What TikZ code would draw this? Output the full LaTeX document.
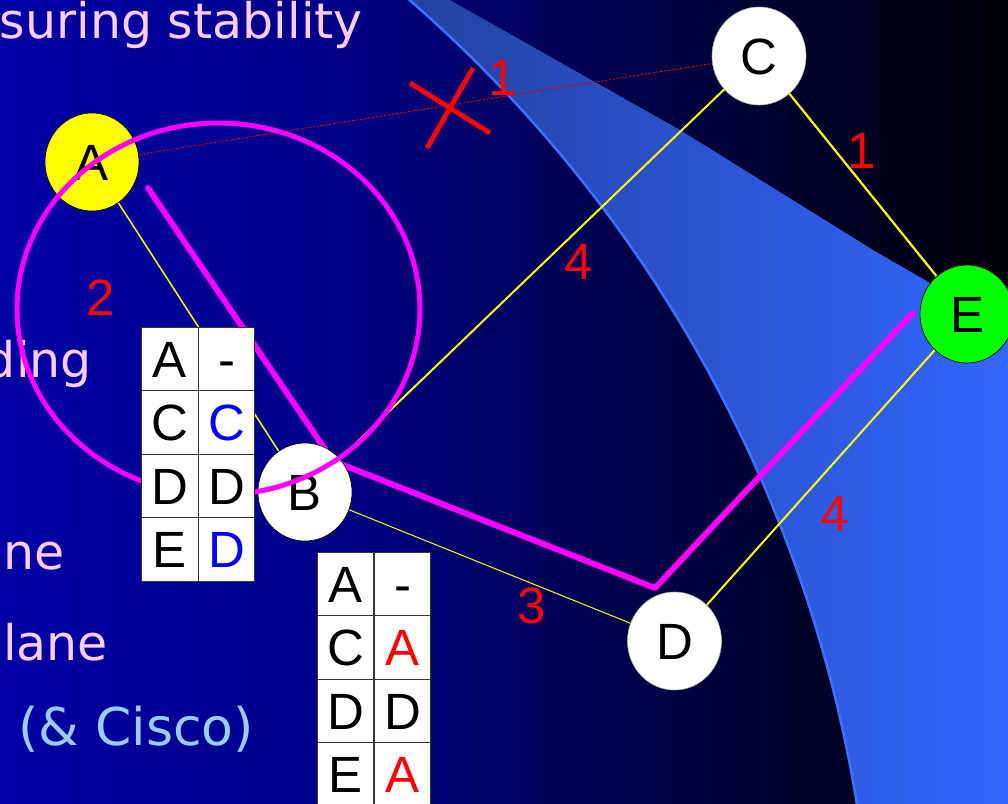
\documentclass[tikz,border=0pt]{standalone}
\usepackage{fontspec}
\usetikzlibrary{shapes.geometric}
\newfontfamily\arialf{Liberation Sans}
\newfontfamily\comicf{DejaVu Sans}
\definecolor{bgA}{RGB}{0,0,165}
\definecolor{bgB}{RGB}{0,0,140}
\definecolor{bgC}{RGB}{0,0,100}
\definecolor{bgD}{RGB}{0,0,60}
\definecolor{bgE}{RGB}{0,0,8}
\definecolor{bandL}{RGB}{35,65,160}
\definecolor{bandR}{RGB}{51,102,255}
\definecolor{bandedge}{RGB}{64,112,255}
\definecolor{yel}{RGB}{255,255,0}
\definecolor{mag}{RGB}{255,0,255}
\definecolor{pinktxt}{RGB}{255,204,255}
\definecolor{ciscotxt}{RGB}{153,204,255}
\definecolor{redtxt}{RGB}{255,0,0}
\definecolor{bluetxt}{RGB}{0,0,255}
\definecolor{nodegreen}{RGB}{0,255,0}
\pgfdeclarehorizontalshading{bgsh}{100bp}{color(0bp)=(bgA); color(25bp)=(bgA); color(40bp)=(bgB); color(50bp)=(bgC); color(60bp)=(bgD); color(75bp)=(bgE); color(100bp)=(bgE)}
\pgfdeclarelayer{bglayer}
\pgfdeclarelayer{edgelayer}
\pgfdeclarelayer{toplayer}
\pgfdeclarelayer{frontlayer}
\pgfsetlayers{bglayer,edgelayer,main,toplayer,frontlayer}
\tikzset{
  rnode/.style={ellipse, draw=black, line width=0.6pt, minimum width=94pt, minimum height=98pt, inner sep=0pt,
    font=\arialf\fontsize{51}{51}\selectfont, text height=37pt, text depth=0pt},
  yline/.style={draw=yel, line width=1.6pt},
  reddash/.style={draw=redtxt!85!black, line width=0.9pt, dash pattern=on 2.5pt off 1.5pt},
  magpath/.style={draw=mag, line width=6pt, line cap=round, line join=round},
  cell/.style={rectangle, draw=black!80, line width=0.8pt, fill=white, minimum width=56.5pt, minimum height=63.5pt,
    inner sep=0pt, font=\arialf\fontsize{51}{51}\selectfont, text height=37pt, text depth=0pt},
  wlabel/.style={inner sep=0pt, text=redtxt, font=\arialf\fontsize{51}{51}\selectfont, text height=37pt, text depth=0pt},
  ctext/.style={inner sep=0pt, text=pinktxt, font=\comicf\fontsize{49}{52}\selectfont},
}
\begin{document}
\begin{tikzpicture}[x=1pt,y=-1pt]
\useasboundingbox (0,0) rectangle (1008,803);
\begin{pgfonlayer}{bglayer}
  \fill[shading=bgsh] (0,0) rectangle (1008,803);
  \fill[left color=bandL, right color=bandR]
    plot[domain=-49.3:-9.0, samples=80] ({-481.4+1356*cos(\x)}, {1022.1+1356*sin(\x)})
    -- (1008,808) -- (1008,328) -- (930,283) -- (873,250) -- (680,130) -- (441,-5) -- cycle;
  \draw[bandedge, line width=2.5pt]
    plot[domain=-49.3:-9.0, samples=80] ({-481.4+1356*cos(\x)}, {1022.1+1356*sin(\x)});
  \node[ctext, anchor=base east] (t1) at (363,38) {suring stability};
  \node[ctext, anchor=base east] (t2) at (92,377) {ding};
  \node[ctext, anchor=base east] (t3) at (65,569) {ane};
  \node[ctext, anchor=base west] (t4) at (3,660) {lane};
  \node[ctext, text=ciscotxt, font=\comicf\fontsize{52}{54}\selectfont, anchor=base west] (t5) at (18,745) {(\&~Cisco)};
\end{pgfonlayer}

\node[rnode, fill=yel] (A) at (92,162) {A};
\node[rnode, fill=white] (B) at (305,492) {B};
\node[rnode, fill=white, draw=black!30] (C) at (759,56) {C};
\node[rnode, fill=white, draw=black!30] (D) at (674.5,641) {D};
\node[rnode, fill=nodegreen] (E) at (967,314) {E};

\coordinate (m0) at (148,188);
\coordinate (m1) at (333,461);
\coordinate (m2) at (655,588);
\coordinate (m3) at (913,313);

\begin{pgfonlayer}{edgelayer}
  \draw[yline, line width=1.5pt] (A) -- (B);
  \draw[yline, line width=2pt] (B) -- (C);
  \draw[yline, line width=1pt] (B) -- (D);
  \draw[yline, line width=2.2pt] (C) -- (E);
  \draw[yline, line width=2pt] (D) -- (E);
  \draw[reddash] (A) -- (C);
  \draw[magpath] (m0) -- (m1) -- (m2) -- (m3);
\end{pgfonlayer}

\begin{pgfonlayer}{toplayer}
  \draw[mag, line width=5pt] (218.5,309) ellipse [x radius=201.5pt, y radius=186pt];
\end{pgfonlayer}

\begin{pgfonlayer}{frontlayer}
  \draw[redtxt, line width=5pt] (410,83) -- (490,133);
  \draw[redtxt, line width=5pt] (473,68) -- (427,148);
  \node[wlabel] (w1) at (503,77) {1};
  \node[wlabel] (w2) at (862,150) {1};
  \node[wlabel] (w3) at (579,261) {4};
  \node[wlabel] (w4) at (101,297) {2};
  \node[wlabel] (w5) at (532,605) {3};
  \node[wlabel] (w6) at (835,513) {4};
  % table at B
  \node[cell] (b11) at (170,358.75) {A};
  \node[cell] (b12) at (226.5,358.75) {-};
  \node[cell] (b21) at (170,422.25) {C};
  \node[cell, text=bluetxt] (b22) at (226.5,422.25) {C};
  \node[cell] (b31) at (170,485.75) {D};
  \node[cell] (b32) at (226.5,485.75) {D};
  \node[cell] (b41) at (170,549.25) {E};
  \node[cell, text=bluetxt] (b42) at (226.5,549.25) {D};
  % table at D
  \node[cell] (d11) at (345.5,583.75) {A};
  \node[cell] (d12) at (402.5,583.75) {-};
  \node[cell] (d21) at (345.5,647.25) {C};
  \node[cell, text=redtxt] (d22) at (402.5,647.25) {A};
  \node[cell] (d31) at (345.5,710.75) {D};
  \node[cell] (d32) at (402.5,710.75) {D};
  \node[cell] (d41) at (345.5,774.25) {E};
  \node[cell, text=redtxt] (d42) at (402.5,774.25) {A};
\end{pgfonlayer}
\end{tikzpicture}
\end{document}
